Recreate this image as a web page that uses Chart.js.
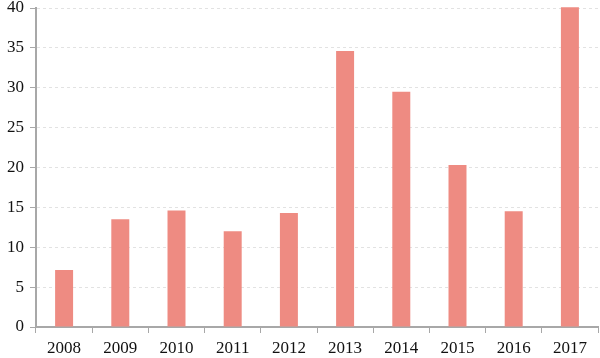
<!DOCTYPE html>
<html>
<head>
<meta charset="utf-8">
<script src="https://cdn.jsdelivr.net/npm/chart.js@4"></script>
<style>
  html, body { margin: 0; padding: 0; background: #fff; }
  #wrap { width: 600px; height: 358px; }
</style>
</head>
<body>
<div id="wrap"><canvas id="chart"></canvas></div>
<script>
// data
const years = ["2008", "2009", "2010", "2011", "2012", "2013", "2014", "2015", "2016", "2017"];
const values = [7.15, 13.5, 14.6, 12.0, 14.3, 34.6, 29.5, 20.3, 14.5, 40.1];
const yTicks = [0, 5, 10, 15, 20, 25, 30, 35, 40];

const axisGray = "#a8a8a8";
const fontTicks = { family: "'Liberation Serif', serif", size: 17 };

new Chart(document.getElementById("chart"), {
    type: "bar",
    data: {
        labels: years,
        datasets: [{
            data: values,
            backgroundColor: "#ee8b82",
            barPercentage: 0.64,
            categoryPercentage: 0.5,
            clip: false
        }]
    },
    options: {
        responsive: true,
        maintainAspectRatio: false,
        animation: false,
        layout: { padding: { top: 0, right: 2, left: 0, bottom: 0 } },
        plugins: { legend: { display: false }, tooltip: { enabled: false } },
        scales: {
            x: {
                grid: { drawOnChartArea: false, offset: true, tickLength: 6, tickColor: axisGray },
                border: { color: axisGray, width: 2 },
                ticks: { color: "#111", font: fontTicks, padding: 5, maxRotation: 0 },
                afterFit: s => { s.height = 31; }
            },
            y: {
                min: 0,
                max: 40,
                grid: { color: "#e2e2e2", tickLength: 6, tickColor: axisGray },
                // in v4 border.dash also dashes the grid lines
                border: { color: axisGray, width: 2, dash: [3, 3] },
                ticks: {
                    color: "#111",
                    font: fontTicks,
                    padding: 6,
                    stepSize: 5,
                    callback: v => yTicks.includes(v) ? String(v) : ""
                },
                afterFit: s => { s.width = 36; s.paddingTop = 8; s.paddingBottom = 0; }
            }
        }
    }
});
</script>
</body>
</html>
